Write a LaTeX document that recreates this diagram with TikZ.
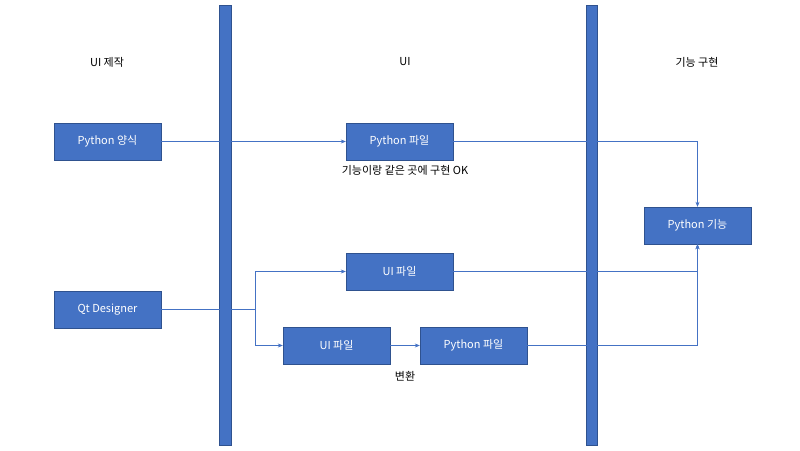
\documentclass[tikz,border=0pt]{standalone}
\usepackage{fontspec}
\setmainfont{Noto Sans CJK KR}
\usetikzlibrary{arrows.meta}
\definecolor{acc}{HTML}{4472C4}
\definecolor{accd}{HTML}{2F528F}
\tikzset{
 box/.style={draw=accd,fill=acc,text=white,minimum width=107pt,minimum height=37pt,inner sep=0pt,font=\fontsize{11}{13}\selectfont},
 lbl/.style={font=\fontsize{11}{13}\selectfont,text=black},
 conn/.style={draw=acc,line width=0.6pt,-{Stealth[length=5pt,width=4pt]}},
 plain/.style={draw=acc,line width=0.6pt},
 bar/.style={fill=acc,draw=accd,line width=0.5pt}
}
\begin{document}
\begin{tikzpicture}[x=1pt,y=-1pt]
\useasboundingbox (0,0) rectangle (800,450);
\fill[white] (0,0) rectangle (800,450);
\draw[bar] (219,5) rectangle (231,445);
\draw[bar] (586,5) rectangle (597,445);
\node[lbl] (t1) at (107,62) {UI 제작};
\node[lbl] (t2) at (405,62) {UI};
\node[lbl] (t3) at (697,62) {기능 구현};
\node[box] (pf) at (107.5,141.5) {Python 양식};
\node[box] (pyf) at (399.5,141.5) {Python 파일};
\node[box] (fn) at (697.5,225.5) {Python 기능};
\node[box] (uim) at (399.5,271.5) {UI 파일};
\node[box] (qt) at (107.5,309.5) {Qt Designer};
\node[box] (uib) at (336.5,345.5) {UI 파일};
\node[box] (pyb) at (473.5,345.5) {Python 파일};
\node[lbl] (n1) at (405,170) {기능이랑 같은 곳에 구현 OK};
\node[lbl] (n2) at (405,376) {변환};
\coordinate (j) at (255,309.5);
\draw[conn] (pf) -- (pyf);
\draw[conn] (pyf.east) -| (fn.north);
\draw[plain] (qt.east) -- (j);
\draw[conn] (j) |- (uim.west);
\draw[conn] (j) |- (uib.west);
\draw[conn] (uib) -- (pyb);
\draw[conn] (uim.east) -| (fn.south);
\draw[conn] (pyb.east) -| (fn.south);
\end{tikzpicture}
\end{document}
